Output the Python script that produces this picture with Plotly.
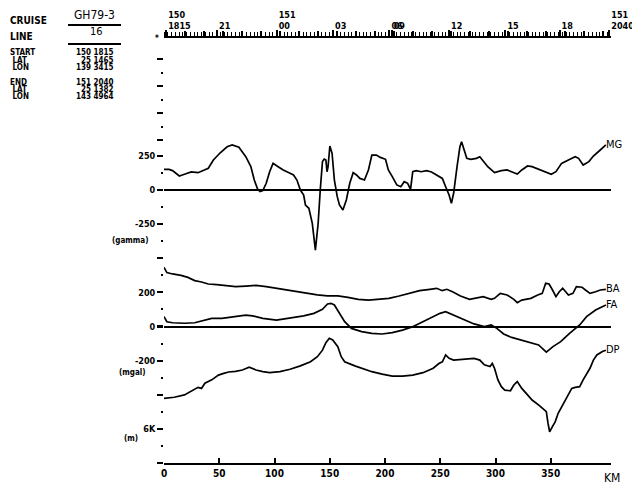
import plotly.graph_objects as go

# ---- profile values (distance in km) ----
mg_km = [0, 4.6, 7.7, 13.9, 18.5, 24.7, 30.8, 35.5, 40.1, 44.7, 50.9, 57.1, 61.7, 67.8, 74, 78.6, 81.7, 84.8,
         86.9, 89.4, 92.5, 95.6, 98.7, 103.3, 107.9, 114.1, 117.2, 120.3, 123.4, 126.4, 128, 131.1, 134.2,
         137, 139.5, 141.4, 143.4, 145, 146.5, 147.5, 148.5, 150.1, 152.1, 154.2, 156.8, 158.8, 161.9, 165,
         168.1, 171.2, 174.2, 177.3, 181.4, 185, 188.1, 192.2, 195.8, 200.5, 203, 206.6, 210.7, 214.3,
         217.4, 220.5, 223.1, 225.1, 228.2, 232.8, 237.5, 242.1, 246.7, 251.9, 254.9, 258, 260.1, 262.1,
         265.2, 267.8, 269.3, 271.4, 274, 277.6, 282.7, 285.8, 288.9, 293, 299.1, 305.3, 310.5, 314.6,
         319.7, 323.8, 329, 333.1, 339.2, 344.4, 350.5, 354.7, 359.8, 366, 372.1, 375.2, 379.3, 384.5,
         388.6, 394.8, 399.9]
mg = [151, 151, 142, 103, 115, 132, 127, 142, 159, 220, 273, 317, 330, 313, 244, 171, 73, 5, -12, -5,
      49, 134, 195, 171, 147, 122, 110, 73, 0, -37, -110, -134, -244, -440, -244, 0, 208, 227,
      220, 134, 171, 322, 269, 73, -49, -110, -147, -73, 49, 127, 110, 85, 73,
      147, 256, 256, 239, 225, 147, 98, 37, 24, 61, 49, 5, 134, 142, 134, 142, 132,
      110, 85, 24, -37, -98, -24, 171, 317, 354, 305, 232, 225, 232, 244, 215, 171, 127, 142, 147,
      134, 117, 147, 176, 171, 151, 134, 115, 134, 195, 220, 244, 232, 183, 208, 249, 293, 330]

ba_km = [0, 2.6, 7.7, 15.4, 21.6, 27.8, 33.9, 40.1, 47.8, 57.1, 64.8, 74, 83.3, 92.5, 101.8, 111, 120.3, 129.5,
         138.8, 148, 157.3, 166.5, 175.8, 185, 194.3, 203.5, 212.8, 222, 231.3, 240.6, 246.7, 251.9, 256,
         261.1, 268.3, 276.5, 280.6, 288.9, 296.1, 299.1, 304.3, 310.5, 316.6, 319.7, 323.8, 332, 338.2,
         342.3, 345.4, 348.5, 351.6, 354.7, 357.7, 360.8, 366, 370.1, 373.2, 378.3, 381.4, 385.5, 390.6,
         394.8, 399.9]
ba = [347, 316, 308, 300, 288, 269, 261, 249, 245, 237, 234, 237, 241, 234, 224, 218, 204, 194, 185, 179, 179,
      171, 159, 155, 159, 165, 179, 194, 210, 218, 224, 210, 218, 204, 179, 159, 165, 175, 159, 165,
      194, 185, 159, 140, 155, 165, 185, 194, 253, 249, 214, 175, 204, 224, 185, 194, 234, 230, 214,
      194, 204, 214, 218]

fa_km = [0, 2.6, 7.7, 18.5, 27.8, 33.9, 43.2, 52.4, 64.8, 74, 80.2, 89.4, 101.8, 114.1, 126.4, 135.7, 143.4,
         148, 151.1, 154.2, 158.8, 163.5, 169.6, 178.9, 188.1, 197.4, 206.6, 215.9, 225.1, 234.4, 243.6,
         249.8, 254.9, 262.1, 271.4, 280.6, 289.9, 296.1, 301.2, 307.4, 314.6, 323.8, 339, 346, 352,
         359, 367, 376.2, 382.4, 390.6, 399.9]
fa = [58, 28, 22, 19, 22, 34, 48, 48, 58, 67, 62, 48, 38, 48, 62, 77, 101, 132, 136, 126, 77,
      28, -11, -30, -40, -44, -36, -21, -1, 28, 58, 77, 87, 67, 38, 15, -1, 9, -11, -44,
      -64, -79, -108, -150, -118, -89, -40, 9, 58, 97, 126]

dp_km = [0, 9.3, 18.5, 24.7, 30.8, 33.9, 37, 43.2, 49.3, 54, 58.6, 64.8, 70.9, 77.1, 83.3, 89.4, 95.6, 104.9,
         114.1, 123.4, 132.6, 138.8, 143.4, 146.5, 149.6, 152.7, 157.3, 160.4, 163.5, 172.7, 182, 188.1,
         197.4, 206.6, 215.9, 225.1, 234.4, 243.6, 248.8, 251.9, 254.9, 258, 262.1, 271.4, 280.6, 285.8,
         289.9, 295, 297.1, 299.1, 302.2, 305.3, 308.4, 313.5, 316.6, 319.7, 323.8, 329, 333.1, 339.2,
         346, 347.5, 349, 351.5, 354, 356.7, 359.8, 362.9, 366, 369, 372.1, 376.2, 379.3, 382.4,
         385.5, 388.6, 391.7, 396.8, 399.9]
dp = [5100, 5070, 5000, 4880, 4780, 4810, 4660, 4560, 4420, 4370, 4330, 4310, 4270, 4190, 4270, 4320, 4350,
      4320, 4250, 4150, 4030, 3880, 3690, 3470, 3340, 3390, 3590, 3880, 4030, 4150, 4250, 4320, 4390,
      4450, 4450, 4420, 4350, 4220, 4080, 4030, 3830, 3930, 3980, 3960, 3930, 3980, 4120, 4170, 4080,
      4220, 4560, 4760, 4860, 4880, 4710, 4610, 4810, 5000, 5150, 5300, 5490, 5830, 6080, 5930, 5790,
      5540, 5350, 5150, 4960, 4810, 4780, 4760, 4560, 4370, 4220, 3980, 3830, 3730, 3690]

time_km = [2, 48, 102, 153, 204, 206, 258, 309, 358, 403]
time_text = ["150<br>1815", "21", "151<br>00", "03", "06", "09", "12", "15", "18", "151<br>2040"]

info_left = ["START", " LAT", " LON", "END", " LAT", " LON"]
info_right = ["150 1815", "25 1465", "139 3415", "151 2040", "25 1382", "143 4964"]

# ---- page geometry in pixels (page coords; the html body adds an 8px offset) ----
OFF = 8
L, R, T, B = 164, 611, 38, 463
KM_PX = 1.105
STEP = 17.06  # pixels between left-hand ticks


def yrange(p0, v0, per_tick, sign=1):
    pp = per_tick / STEP
    return [v0 - sign * (B - p0) * pp, v0 + sign * (p0 - T) * pp]


def px(x):
    return (x - L) / (R - L)


def py(y):
    return (B - y) / (B - T)


FONT = "DejaVu Sans Condensed, DejaVu Sans"
black = "black"

fig = go.Figure()


def add(xs, ys, name, yax):
    fig.add_trace(go.Scatter(x=xs, y=ys, yaxis=yax, mode="lines+text",
                             text=[""] * (len(xs) - 1) + [name], textposition="middle right",
                             textfont=dict(size=11, color=black, family=FONT),
                             line=dict(color=black, width=1.7), showlegend=False, cliponaxis=False))


add(mg_km, mg, "MG", "y")
add(ba_km, ba, "BA", "y2")
add(fa_km, fa, "FA", "y2")
add(dp_km, dp, "DP", "y3")
# empty traces so the tick-only axes get drawn
fig.add_trace(go.Scatter(x=time_km, y=[None] * len(time_km), xaxis="x2", yaxis="y", showlegend=False))
fig.add_trace(go.Scatter(x=time_km, y=[None] * len(time_km), xaxis="x3", yaxis="y", showlegend=False))
fig.add_trace(go.Scatter(x=[None], y=[None], yaxis="y4", showlegend=False))

mg_major = list(range(-2000, 251, 250))
mg_minor = list(range(-1875, 126, 250))
mg_text = [{250: "250", 0: "0", -250: "-250"}.get(v, "") for v in mg_major]

tickf = dict(size=9, color=black, family=FONT, weight="bold")
xr = [0, (R - L) / KM_PX]

fig.update_layout(
    width=640 - OFF, height=489 - OFF,
    margin=dict(l=L - OFF, r=640 - R, t=T - OFF, b=489 - B, autoexpand=False),
    paper_bgcolor="white", plot_bgcolor="white",
    font=dict(family=FONT, color=black),
    xaxis=dict(range=xr, tickvals=list(range(0, 351, 50)), ticks="inside", ticklen=5, tickwidth=2,
               tickcolor=black, showline=True, linewidth=2, linecolor=black, showgrid=False,
               zeroline=False, automargin=False,
               tickfont=dict(size=10, color=black, family=FONT, weight="bold")),
    xaxis2=dict(range=xr, overlaying="x", side="top", anchor="y", tickvals=time_km, ticktext=time_text,
                tickangle=0, ticks="outside", ticklen=6, tickwidth=2, tickcolor=black,
                ticklabelposition="outside right", ticklabelstandoff=3, automargin=False,
                showline=True, linewidth=2, linecolor=black,
                showgrid=False, zeroline=False, tickfont=dict(size=9, color=black, family=FONT, weight="bold"),
                minor=dict(tickmode="linear", tick0=0, dtick=3.4, ticks="outside", ticklen=4,
                           tickwidth=1, tickcolor=black, showgrid=False)),
    # hourly flags along the time bar
    xaxis3=dict(range=xr, overlaying="x", side="top", anchor="y", tickmode="linear", tick0=2, dtick=17.2,
                ticks="outside", ticklen=6, tickwidth=2, tickcolor=black, showticklabels=False,
                showgrid=False, zeroline=False, showline=False, automargin=False),
    yaxis=dict(range=yrange(190, 0, 125), tickvals=mg_major, ticktext=mg_text, ticks="outside",
               ticklen=6, tickwidth=2, tickcolor=black, showgrid=False, showline=False, automargin=False,
               zeroline=True, zerolinewidth=2, zerolinecolor=black, tickfont=tickf,
               minor=dict(tickvals=mg_minor, ticks="outside", ticklen=2, tickwidth=2, tickcolor=black,
                          showgrid=False)),
    yaxis2=dict(range=yrange(326.5, 0, 100), overlaying="y", side="left", anchor="x", automargin=False,
                tickvals=[200, 0, -200], ticktext=["200", "0", "-200"], ticks="outside", ticklen=6,
                tickwidth=2, tickcolor=black, showgrid=False, zeroline=True, zerolinewidth=2,
                zerolinecolor=black, tickfont=tickf),
    yaxis3=dict(range=yrange(429, 6000, 500, sign=-1), overlaying="y", side="left", anchor="x",
                tickvals=[6000], ticktext=["6K"], ticks="outside", ticklen=6, tickwidth=2, automargin=False,
                tickcolor=black, showgrid=False, zeroline=False, tickfont=tickf),
    # unlabelled tick column above the MG channel
    yaxis4=dict(range=[B, T], overlaying="y", side="left", anchor="x", tickvals=[59, 86, 113, 140],
                ticktext=[""] * 4, ticks="outside", ticklen=6, tickwidth=2, tickcolor=black,
                showgrid=False, zeroline=False, automargin=False,
                minor=dict(tickvals=[72.5, 99.5, 126.5], ticks="outside", ticklen=2, tickwidth=2,
                           tickcolor=black, showgrid=False)),
)

ann = [
    ("CRUISE", 8, 20, "left", 10),
    ("GH79-3", 94, 15, "center", 12),
    ("16", 96, 31, "center", 11),
    ("LINE", 8, 36, "left", 10),
    ("*", 161, 38, "right", 8),
    ("(gamma)", 150, 240, "right", 8),
    ("(mgal)", 148, 372, "right", 8),
    ("(m)", 140, 438, "right", 8),
    ("KM", 602, 478, "left", 12),
]
rows = [53, 60, 67, 82, 89, 96]
for lab, val, y in zip(info_left, info_right, rows):
    ann.append((lab, 8, y, "left", 8))
    ann.append((val, 116, y, "right", 8))

for text, x, y, anchor, size in ann:
    fig.add_annotation(text="<b>%s</b>" % text if size < 11 else text, x=px(x), y=py(y),
                       xref="paper", yref="paper", xanchor=anchor, yanchor="middle", showarrow=False,
                       font=dict(size=size, color=black, family=FONT))

for y in (25, 44):
    fig.add_shape(type="line", xref="paper", yref="paper", x0=px(68), x1=px(121), y0=py(y), y1=py(y),
                  line=dict(color=black, width=2))

fig.write_html("out.html")
